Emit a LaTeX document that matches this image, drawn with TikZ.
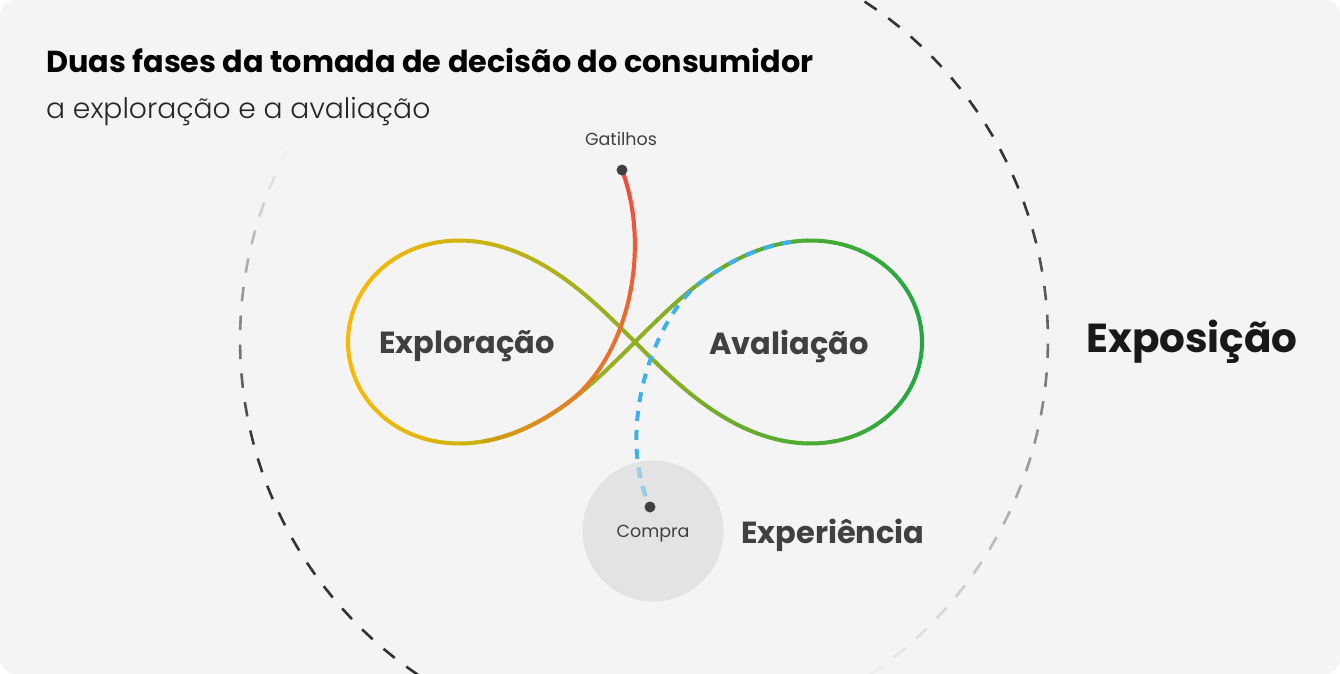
\documentclass[tikz,border=0pt]{standalone}
\usepackage{fontspec}
\setmainfont{Poppins}
\IfFontExistsTF{Poppins Light}{\newfontfamily\lightfont{Poppins Light}}{\newcommand\lightfont{\normalfont}}
\usetikzlibrary{positioning}
\definecolor{cardbg}{HTML}{F4F4F4}
\definecolor{circgray}{HTML}{E3E3E3}
\definecolor{dashdark}{HTML}{333333}
\definecolor{labelgray}{HTML}{404040}
\definecolor{loopL}{RGB}{252,183,4}
\definecolor{loopR}{RGB}{34,167,64}
\definecolor{trigR}{RGB}{246,72,64}
\definecolor{trigO}{RGB}{228,128,38}
\definecolor{trigY}{RGB}{208,160,18}
\definecolor{buyblue}{RGB}{62,176,236}
\definecolor{buylight}{RGB}{158,204,230}

\begin{document}
\begin{tikzpicture}[x=1pt,y=-1pt,
  lbl/.style={inner sep=0pt,font=\bfseries\fontsize{30.5}{32}\selectfont,text=labelgray},
  tinylbl/.style={inner sep=0pt,font=\fontsize{17.5}{19}\selectfont,text=labelgray},
  blackdot/.style={circle,fill=labelgray,inner sep=0pt,minimum size=11pt},
  loopline/.style={line width=4pt,line cap=round},
  arcdash/.style={line width=2.6pt},
  bluedash/.style={line width=4pt,buyblue,dash pattern=on 10pt off 9pt,dash phase=7pt},
  declare function={lx(\t)=635+287*cos(\t)/(1+sin(\t)*sin(\t));
    ly(\t)=342+287*sin(\t)*cos(\t)/(1+sin(\t)*sin(\t));
    bx(\s)=(1-\s)*(1-\s)*(1-\s)*622+3*(1-\s)*(1-\s)*\s*652+3*(1-\s)*\s*\s*628+\s*\s*\s*568.4;
    by(\s)=(1-\s)*(1-\s)*(1-\s)*170+3*(1-\s)*(1-\s)*\s*250+3*(1-\s)*\s*\s*357.4+\s*\s*\s*402.4;}]
\useasboundingbox(0,0)rectangle(1340,674);
\fill[white](0,0)rectangle(1340,674);
\fill[cardbg,rounded corners=16pt](0,0)rectangle(1340,674);
% outer dashed ring, fading
\begin{scope}
\clip[rounded corners=16pt](0,0)rectangle(1340,674);
\foreach \a in {124,128.1,...,212}{
  \pgfmathsetmacro\b{\a+2.05}\pgfmathsetmacro\ym{340+404*sin(\a+1)}
  \pgfmathtruncatemacro\c{max(0,min(100,(\ym-150)/3))}
  \draw[arcdash,color=dashdark!\c!cardbg]({644+404*cos(\a)},{340+404*sin(\a)})--({644+404*cos(\b)},{340+404*sin(\b)});
}
\foreach \a in {-61,-56.9,...,58}{
  \pgfmathsetmacro\b{\a+2.05}\pgfmathsetmacro\ym{340+404*sin(\a+1)}
  \pgfmathtruncatemacro\c{max(0,min(100,(690-\ym)/4.9))}
  \draw[arcdash,color=dashdark!\c!cardbg]({644+404*cos(\a)},{340+404*sin(\a)})--({644+404*cos(\b)},{340+404*sin(\b)});
}
\end{scope}
% title
\node[anchor=base west,inner sep=0pt,font=\bfseries\fontsize{30.3}{33}\selectfont](ttl)at(46,73){Duas fases da tomada de decisão do consumidor};
\node[anchor=base west,inner sep=0pt,font=\lightfont\fontsize{28.2}{31}\selectfont,text=black!85](sub)at(46,118){a exploração e a avaliação};
% purchase circle
\node[circle,fill=circgray,minimum size=141pt](buy)at(653,531){};
% infinity loop
\foreach \t in {0,3,...,357}{
  \pgfmathsetmacro\tb{\t+3}
  \pgfmathtruncatemacro\c{max(0,min(100,(lx(\t+1.5)-348)/5.74))}
  \draw[loopline,color=loopR!\c!loopL]plot[domain=\t:\tb,samples=4,variable=\u]({lx(\u)},{ly(\u)});
}
% trigger path
\coordinate(gat)at(622,170);
\foreach \i in {0,...,29}{
  \pgfmathsetmacro\sa{\i/30}\pgfmathsetmacro\sb{(\i+1)/30}
  \pgfmathtruncatemacro\c{\i*100/29}
  \draw[loopline,color=trigO!\c!trigR]({bx(\sa)},{by(\sa)})--({bx(\sb)},{by(\sb)});
}
\foreach \t in {245,242,...,224}{
  \pgfmathsetmacro\tb{\t-3}
  \pgfmathtruncatemacro\c{(245-\t)*100/21}
  \draw[loopline,color=trigY!\c!trigO]plot[domain=\t:\tb,samples=4,variable=\u]({lx(\u)},{ly(\u)});
}
% purchase path
\coordinate(cmp)at(650,507);
\coordinate(bj)at({lx(294.8)},{ly(294.8)});
\draw[bluedash](cmp)..controls(615,430)and(652.9,318.1)..(bj)--plot[domain=294.8:320,samples=12,variable=\u]({lx(\u)},{ly(\u)});
\draw[bluedash,buylight](cmp)..controls(644.4,494.68)and(640.67,481.39)..(638.54,467.75);
\node[blackdot](gatdot)at(gat){};
\node[blackdot](cmpdot)at(cmp){};
% labels
\node[tinylbl](gatlbl)at(621,139){Gatilhos};
\node[tinylbl](cmplbl)at(653,534){Compra};
\node[lbl](expl)at(467,346){Exploração};
\node[lbl](aval)at(789,346){Avaliação};
\node[lbl,anchor=west](exper)at(741,535){Experiência};
\node[inner sep=0pt,font=\bfseries\fontsize{40.5}{44}\selectfont,text=black!90](expo)at(1192,342){Exposição};
\end{tikzpicture}
\end{document}
